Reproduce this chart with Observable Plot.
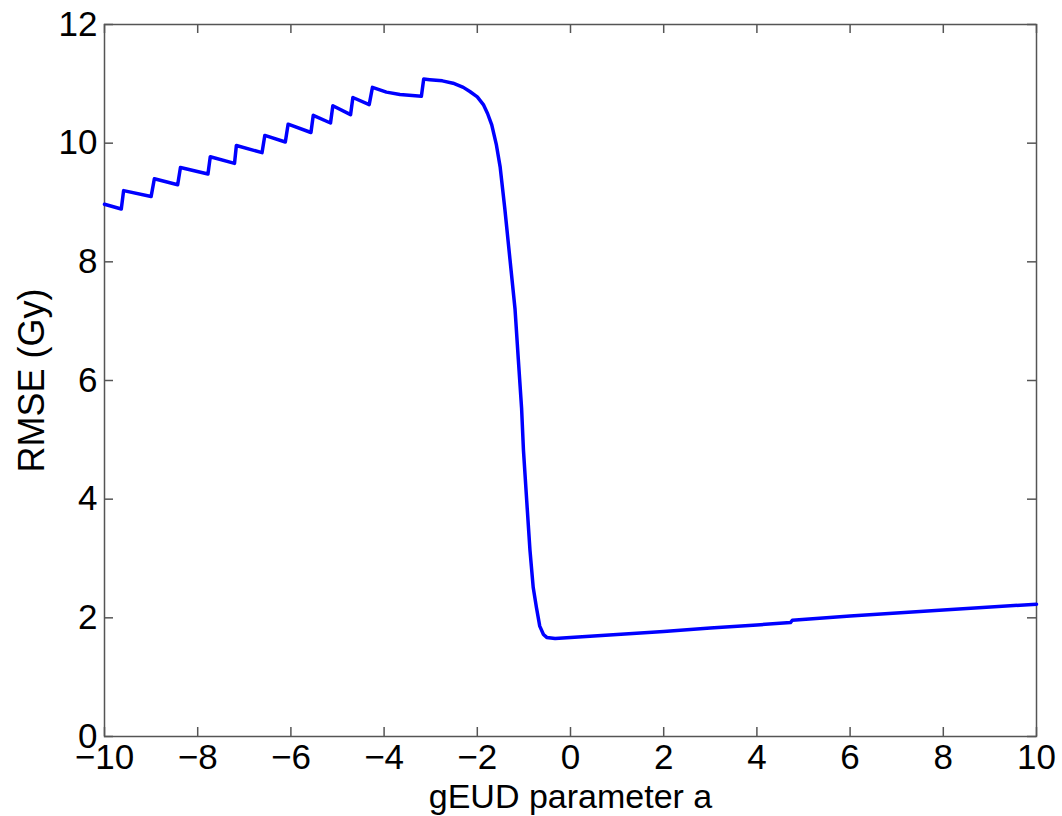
<!DOCTYPE html>
<html>
<head>
<meta charset="utf-8">
<script src="https://cdn.jsdelivr.net/npm/d3@7"></script>
<script src="https://cdn.jsdelivr.net/npm/@observablehq/plot@0.6"></script>
<style>
  html, body { margin: 0; padding: 0; background: #fff; }
</style>
</head>
<body>
<div id="chart"></div>
<script>
// gEUD parameter a
const aValues = [
  -10, -9.64, -9.59, -9.00, -8.93, -8.43, -8.37, -7.78, -7.73, -7.21,
  -7.17, -6.62, -6.56, -6.12, -6.06, -5.57, -5.52, -5.15, -5.10, -4.72,
  -4.67, -4.32, -4.25, -3.95, -3.66, -3.20, -3.15, -3.02, -2.75, -2.52,
  -2.30, -2.16, -2.00, -1.87, -1.78, -1.69, -1.59, -1.51, -1.41, -1.30,
  -1.19, -1.12, -1.05, -1.01, -0.94, -0.87, -0.80, -0.73, -0.66, -0.58,
  -0.51, -0.33, 0, 1, 2, 3, 4, 4.72, 4.76, 6, 8, 10
];
// RMSE (Gy)
const rmseValues = [
  8.97, 8.89, 9.20, 9.10, 9.40, 9.30, 9.59, 9.48, 9.77, 9.66,
  9.96, 9.84, 10.13, 10.02, 10.32, 10.18, 10.47, 10.34, 10.63, 10.48,
  10.77, 10.65, 10.94, 10.86, 10.82, 10.79, 11.08, 11.07, 11.05, 11.01,
  10.94, 10.87, 10.78, 10.65, 10.50, 10.31, 9.97, 9.60, 8.90, 8.05,
  7.20, 6.36, 5.54, 4.83, 3.98, 3.14, 2.51, 2.17, 1.86, 1.72,
  1.67, 1.65, 1.67, 1.72, 1.77, 1.83, 1.88, 1.92, 1.96, 2.03, 2.13, 2.23
];
const xTicks = [-10, -8, -6, -4, -2, 0, 2, 4, 6, 8, 10];
const yTicks = [0, 2, 4, 6, 8, 10, 12];
const xLabel = "gEUD parameter a";
const yLabel = "RMSE (Gy)";

const data = aValues.map((a, i) => ({a, rmse: rmseValues[i]}));

const W = 1062, H = 816;
const mL = 104, mR = 26, mT = 24, mB = 80;
const innerW = W - mL - mR, innerH = H - mT - mB;
const tickLen = 9;
const axisColor = "#555";
const fs = 34;
const fmt = d => d < 0 ? "\u2212" + (-d) : String(d);

const chart = Plot.plot({
  width: W,
  height: H,
  marginLeft: mL,
  marginRight: mR,
  marginTop: mT,
  marginBottom: mB,
  x: {domain: [-10, 10]},
  y: {domain: [0, 12]},
  style: {fontFamily: "'Liberation Sans', Arial, Helvetica, sans-serif", background: "#fff", color: "#000"},
  marks: [
    Plot.frame({stroke: axisColor, strokeWidth: 1.5}),
    Plot.ruleX(xTicks, {insetTop: innerH - tickLen, stroke: axisColor, strokeWidth: 1.5}),
    Plot.ruleX(xTicks, {insetBottom: innerH - tickLen, stroke: axisColor, strokeWidth: 1.5}),
    Plot.ruleY(yTicks, {insetRight: innerW - tickLen, stroke: axisColor, strokeWidth: 1.5}),
    Plot.ruleY(yTicks, {insetLeft: innerW - tickLen, stroke: axisColor, strokeWidth: 1.5}),
    Plot.axisX(xTicks, {tickSize: 0, tickPadding: 8, fontSize: 35, label: null, fill: "#000", tickFormat: fmt, style: {letterSpacing: "1px"}}),
    Plot.axisY(yTicks, {tickSize: 0, tickPadding: 7, fontSize: 35, label: null, fill: "#000", tickFormat: fmt, style: {letterSpacing: "1px"}}),
    Plot.line(data, {x: "a", y: "rmse", stroke: "#0000ff", strokeWidth: 3.5, strokeLinejoin: "round"}),
    Plot.text([xLabel], {frameAnchor: "bottom", dy: 61, lineAnchor: "middle", textAnchor: "middle", fontSize: fs, fill: "#000", style: {letterSpacing: "2.5px"}}),
    Plot.text([yLabel], {frameAnchor: "left", dx: -72, rotate: -90, lineAnchor: "middle", textAnchor: "middle", fontSize: 36, fill: "#000", style: {letterSpacing: "2px"}})
  ]
});
document.getElementById("chart").appendChild(chart);
</script>
</body>
</html>
